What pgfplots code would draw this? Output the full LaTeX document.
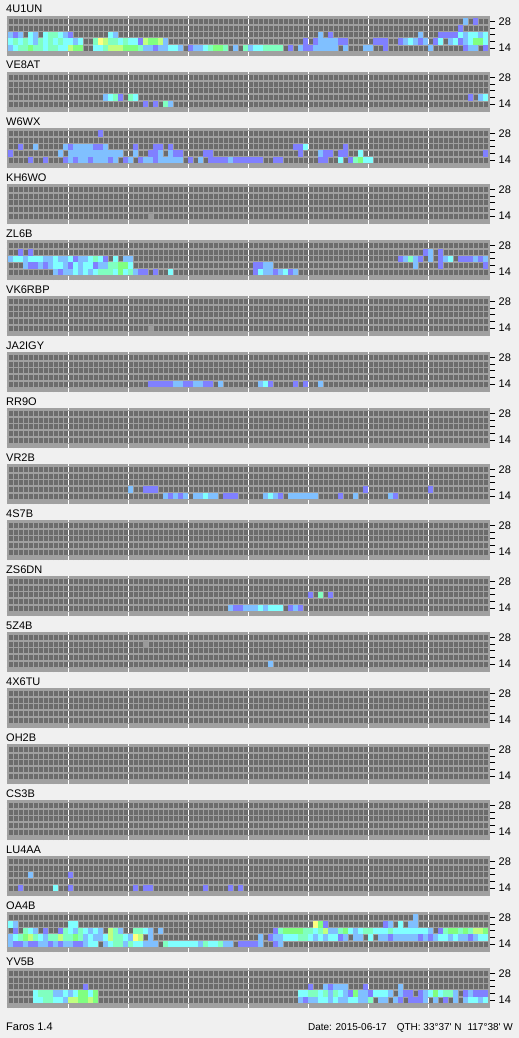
\documentclass[border=0pt]{standalone}
\usepackage{pgfplots}
\pgfplotsset{compat=1.18}
\usepackage{fontspec}
\setmainfont{Liberation Sans}
\definecolor{bgc}{HTML}{F0F0F0}
\definecolor{brd}{HTML}{A0A0A0}
\definecolor{dark}{HTML}{6C6C6C}
\definecolor{cv}{HTML}{8080FF}
\definecolor{cb}{HTML}{80C0FF}
\definecolor{cc}{HTML}{80FFFF}
\definecolor{ca}{HTML}{80FFC0}
\definecolor{cg}{HTML}{80FF80}
\definecolor{cy}{HTML}{C0FF80}
\definecolor{co}{HTML}{FFFF80}
\definecolor{ck}{HTML}{9A9A9A}
\pgfdeclareplotmark{cell}{\pgfpathrectangle{\pgfpoint{-2.5pt}{-3.3pt}}{\pgfpoint{5pt}{6.6pt}}\pgfusepathqfill}
\pgfplotsset{
  panel/.style={
    scale only axis, x=5pt, y=6.6pt,
    xmin=-0.3, xmax=96.3, ymin=-0.75, ymax=5.35,
    axis background/.style={fill=brd},
    axis line style={draw=none},
    axis on top,
    xtick={12,24,...,84}, xticklabels={},
    minor xtick={0,...,96},
    xmajorgrids, xminorgrids,
    major x grid style={white, line width=1pt},
    minor x grid style={brd, line width=1pt},
    ytick={0.5,1.5,2.5,3.5,4.5}, yticklabels={14,,,,28},
    minor ytick={0,...,5}, ymajorgrids=false, yminorgrids,
    minor y grid style={brd, line width=1.6pt},
    ytick pos=right, yticklabel pos=right,
    tick align=outside, major tick length=5pt, minor tick length=0pt,
    xtick style={draw=none},
    ytick style={black, line width=0.8pt},
    tick label style={font=\fontsize{11}{13}\selectfont},
    yticklabel style={inner sep=1pt, xshift=3pt},
    anchor=north west,
  },
}
% (column = 15-min slot 0..95, row 0 = 14 MHz ... 4 = 28 MHz), one plot per signal colour
\newcommand{\cells}[2]{\addplot[only marks, mark=cell, fill=#1, draw=none,
  x filter/.expression={x+0.5}, y filter/.expression={y+0.5}] coordinates {#2};}
\newcommand{\panel}[3]{%
  \begin{axis}[panel, at={(6.5pt,#1)}]
    \addplot[fill=dark, draw=none] coordinates {(0,0) (96,0) (96,5) (0,5) (0,0)};
    #3
  \end{axis}
  \node[anchor=base west, inner sep=0pt, font=\fontsize{11}{13}\selectfont] at (6pt,{#1+3pt}) {#2};
}

\begin{document}
\begin{tikzpicture}
\fill[bgc] (0pt,0pt) rectangle (519pt,-1038pt);
\panel{-16pt}{4U1UN}{
\cells{cv}{(1,2)(12,2)(26,1)(29,0)(36,0)(93,4)(90,3)(64,2)(86,2)(87,2)(88,2)(89,2)(59,1)(61,1)(66,1)(67,1)(73,1)(74,1)(75,1)(78,1)(82,1)(85,1)(90,1)(56,0)(59,0)(60,0)(75,0)(91,0)(95,0)}
\cells{cb}{(0,2)(2,2)(5,2)(11,2)(21,2)(5,1)(13,1)(31,1)(0,0)(27,0)(28,0)(30,0)(31,0)(34,0)(37,0)(38,0)(45,0)(48,0)(91,4)(62,2)(82,2)(91,2)(94,2)(62,1)(63,1)(64,1)(65,1)(79,1)(81,1)(83,1)(88,1)(91,1)(58,0)(61,0)(62,0)(63,0)(64,0)(65,0)(67,0)(71,0)(72,0)(84,0)(92,0)(93,0)}
\cells{cc}{(4,2)(7,2)(10,2)(20,2)(0,1)(2,1)(4,1)(7,1)(9,1)(11,1)(12,1)(14,1)(22,1)(24,1)(25,1)(1,0)(7,0)(10,0)(11,0)(17,0)(18,0)(32,0)(33,0)(39,0)(49,0)(50,0)(90,2)(92,2)(93,2)(95,2)(80,1)(86,1)(89,1)(92,1)(95,1)}
\cells{ca}{(8,2)(9,2)(1,1)(3,1)(6,1)(8,1)(10,1)(17,1)(20,1)(21,1)(23,1)(2,0)(3,0)(5,0)(6,0)(8,0)(9,0)(19,0)(26,0)(40,0)(43,0)(47,0)(51,0)(52,0)(53,0)(54,0)}
\cells{cg}{(28,1)(29,1)(4,0)(13,0)(14,0)(23,0)(24,0)(25,0)(41,0)(42,0)(93,1)(94,1)}
\cells{cy}{(19,1)(27,1)(30,1)(12,0)(20,0)(21,0)(22,0)}
\cells{co}{(18,1)}
}
\panel{-72pt}{VE8AT}{
\cells{cv}{(22,1)(92,1)(27,0)(29,0)}
\cells{cb}{(19,1)(94,1)(32,0)}
\cells{cc}{(20,1)(25,1)(95,1)}
\cells{ca}{(21,1)(24,1)(31,0)}
}
\panel{-128pt}{W6WX}{
\cells{cv}{(18,4)(2,2)(12,2)(17,2)(18,2)(25,2)(29,2)(30,2)(32,2)(57,2)(58,2)(67,2)(0,1)(28,1)(29,1)(33,1)(34,1)(39,1)(40,1)(58,1)(63,1)(64,1)(66,1)(67,1)(95,1)(4,0)(7,0)(11,0)(13,0)(16,0)(20,0)(23,0)(26,0)(29,0)(36,0)(40,0)(41,0)(42,0)(43,0)(45,0)(46,0)(47,0)(48,0)(49,0)(50,0)(53,0)(54,0)(62,0)(63,0)(68,0)}
\cells{cb}{(5,2)(11,2)(13,2)(14,2)(15,2)(16,2)(19,2)(10,1)(12,1)(13,1)(14,1)(15,1)(16,1)(17,1)(18,1)(19,1)(20,1)(21,1)(22,1)(25,1)(30,1)(32,1)(62,1)(12,0)(14,0)(15,0)(17,0)(18,0)(19,0)(21,0)(24,0)(27,0)(28,0)(30,0)(31,0)(32,0)(33,0)(34,0)(38,0)(44,0)}
\cells{cc}{(59,2)(70,1)(66,0)(71,0)(72,0)}
\cells{ca}{(69,0)}
\cells{cg}{(70,0)}
}
\panel{-184pt}{KH6WO}{\cells{ck}{(28,0)}}
\panel{-240pt}{ZL6B}{
\cells{cv}{(2,3)(4,3)(83,3)(86,3)(13,2)(19,2)(78,2)(82,2)(86,2)(90,2)(91,2)(92,2)(94,2)(4,1)(5,1)(7,1)(12,1)(17,1)(49,1)(50,1)(86,1)(95,1)(10,0)(26,0)(27,0)(29,0)(49,0)(53,0)(56,0)}
\cells{cb}{(84,3)(0,2)(3,2)(7,2)(8,2)(10,2)(11,2)(14,2)(15,2)(23,2)(24,2)(79,2)(81,2)(84,2)(87,2)(93,2)(95,2)(3,1)(6,1)(8,1)(11,1)(14,1)(18,1)(19,1)(51,1)(52,1)(81,1)(9,0)(11,0)(12,0)(14,0)(16,0)(25,0)(51,0)(52,0)(54,0)(57,0)}
\cells{cc}{(1,2)(2,2)(4,2)(5,2)(6,2)(9,2)(12,2)(16,2)(18,2)(21,2)(88,2)(9,1)(10,1)(13,1)(15,1)(16,1)(24,1)(13,0)(15,0)(17,0)(21,0)(23,0)(32,0)(50,0)(55,0)}
\cells{ca}{(17,2)(80,2)(20,1)(21,1)(18,0)(19,0)(20,0)(24,0)}
\cells{cg}{(22,1)(23,1)(22,0)}
}
\panel{-296pt}{VK6RBP}{\cells{ck}{(28,0)}}
\panel{-352pt}{JA2IGY}{
\cells{cv}{(28,0)(29,0)(30,0)(31,0)(32,0)(35,0)(36,0)(39,0)(40,0)(52,0)(57,0)(59,0)}
\cells{cb}{(33,0)(34,0)(37,0)(38,0)(42,0)(50,0)(62,0)}
\cells{cc}{(51,0)}
}
\panel{-408pt}{RR9O}{}
\panel{-464pt}{VR2B}{
\cells{cv}{(27,1)(28,1)(29,1)(71,1)(84,1)(32,0)(34,0)(43,0)(44,0)(45,0)(54,0)(66,0)(77,0)}
\cells{cb}{(24,1)(31,0)(33,0)(35,0)(37,0)(38,0)(40,0)(41,0)(51,0)(53,0)(56,0)(57,0)(58,0)(59,0)(60,0)(61,0)(69,0)(76,0)}
\cells{cc}{(39,0)(52,0)}
}
\panel{-520pt}{4S7B}{}
\panel{-576pt}{ZS6DN}{
\cells{cv}{(60,2)(64,2)(45,0)(46,0)(56,0)(58,0)}
\cells{cb}{(44,0)(47,0)(48,0)(49,0)(51,0)(57,0)}
\cells{cc}{(50,0)(52,0)(53,0)(54,0)}
\cells{ca}{(62,2)}
}
\panel{-632pt}{5Z4B}{\cells{ck}{(27,3)} \cells{cb}{(52,0)}}
\panel{-688pt}{4X6TU}{}
\panel{-744pt}{OH2B}{}
\panel{-800pt}{CS3B}{}
\panel{-856pt}{LU4AA}{
\cells{cv}{(12,2)(2,0)(12,0)(25,0)(27,0)(28,0)(39,0)(44,0)(46,0)}
\cells{cb}{(4,2)}
\cells{cc}{(9,0)}
}
\panel{-912pt}{OA4B}{
\cells{cv}{(1,2)(7,2)(10,2)(1,0)(2,0)(4,0)(5,0)(8,0)(10,0)(13,0)(14,0)(46,0)(47,0)(48,0)(49,0)(53,0)(63,3)(75,3)(53,2)(86,2)(52,1)(66,1)(76,1)(82,1)(84,1)(92,1)}
\cells{cb}{(1,3)(5,2)(13,2)(16,2)(18,2)(22,2)(28,2)(30,2)(0,1)(7,1)(15,1)(17,1)(18,1)(24,1)(28,1)(0,0)(3,0)(6,0)(7,0)(9,0)(11,0)(12,0)(15,0)(19,0)(23,0)(27,0)(28,0)(29,0)(38,0)(43,0)(44,0)(50,0)(54,0)(81,4)(76,3)(80,3)(81,3)(64,2)(65,2)(69,2)(84,2)(50,1)(53,1)(54,1)(61,1)(63,1)(67,1)(69,1)(70,1)(74,1)(75,1)(77,1)(78,1)(79,1)(80,1)(81,1)(83,1)(85,1)(88,1)(90,1)(91,1)(93,1)}
\cells{cc}{(0,3)(12,3)(13,3)(4,2)(12,2)(15,2)(17,2)(27,2)(1,1)(6,1)(16,1)(19,1)(23,1)(16,0)(17,0)(20,0)(25,0)(26,0)(32,0)(33,0)(34,0)(35,0)(36,0)(37,0)(40,0)(41,0)(78,3)(61,2)(68,2)(70,2)(73,2)(74,2)(75,2)(77,2)(78,2)(79,2)(80,2)(81,2)(82,2)(83,2)(55,1)(56,1)(57,1)(60,1)(62,1)(64,1)(65,1)(72,1)(86,1)(87,1)(89,1)(94,1)(95,1)}
\cells{ca}{(3,2)(11,2)(14,2)(21,2)(25,2)(26,2)(2,1)(5,1)(8,1)(9,1)(11,1)(12,1)(14,1)(21,1)(22,1)(21,0)(22,0)(24,0)(31,0)(39,0)(42,0)(54,2)(59,2)(60,2)(62,2)(66,2)(71,2)(72,2)(76,2)(87,2)(90,2)(92,2)(58,1)(59,1)}
\cells{cg}{(3,1)(13,1)(62,3)(55,2)(56,2)(57,2)(58,2)(67,2)(88,2)(89,2)(91,2)(95,2)}
\cells{cy}{(20,2)(4,1)(10,1)(20,1)(26,1)(63,2)(93,2)(94,2)}
\cells{co}{(61,3)(25,1)}
}
\panel{-968pt}{YV5B}{
\cells{cv}{(15,2)(60,2)(64,2)(71,2)(68,1)(72,1)(79,1)(80,1)(82,1)(91,1)(93,1)(94,1)(95,1)(59,0)(78,0)(80,0)(81,0)(82,0)(87,0)}
\cells{cb}{(63,2)(65,2)(66,2)(67,2)(78,2)(9,1)(10,1)(12,1)(64,1)(67,1)(70,1)(71,1)(76,1)(78,1)(83,1)(89,1)(92,1)(11,0)(58,0)(60,0)(61,0)(64,0)(66,0)(67,0)(70,0)(71,0)(74,0)(75,0)(77,0)(83,0)(85,0)(89,0)(91,0)(94,0)}
\cells{cc}{(5,1)(11,1)(13,1)(16,1)(58,1)(59,1)(62,1)(66,1)(73,1)(74,1)(75,1)(84,1)(86,1)(5,0)(6,0)(9,0)(10,0)(62,0)(63,0)(65,0)(68,0)(69,0)(92,0)(93,0)(95,0)}
\cells{ca}{(6,1)(7,1)(8,1)(60,1)(61,1)(63,1)(65,1)(87,1)(88,1)(7,0)(8,0)(72,0)}
\cells{cg}{(14,1)(15,1)(17,1)(69,1)(85,1)(14,0)(15,0)(17,0)}
\cells{cy}{(12,0)(13,0)(16,0)}
}
\node[anchor=base west, inner sep=0pt, font=\fontsize{11}{13}\selectfont] at (6pt,-1030pt) {Faros 1.4};
\node[anchor=base east, inner sep=0pt, font=\fontsize{10}{12}\selectfont] at (513pt,-1030pt)
  {Date: 2015-06-17\hspace{10pt}QTH: 33°37\textquotesingle{} N\hspace{6pt}117°38\textquotesingle{} W};
\end{tikzpicture}
\end{document}
